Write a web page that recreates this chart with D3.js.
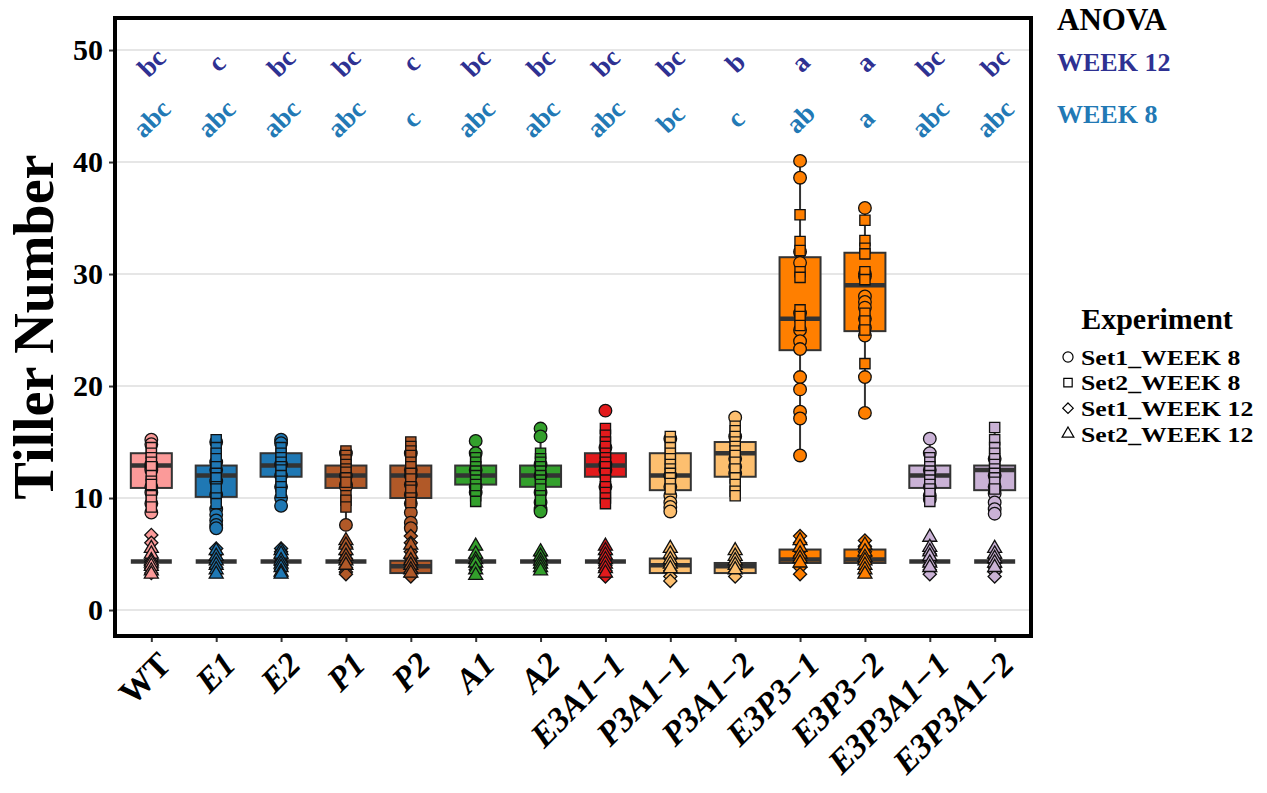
<!DOCTYPE html>
<html>
<head lang="en">
<meta charset="utf-8">
<title>Tiller Number</title>
<style>
body { margin: 0; background: #fff; }
text { font-family: "Liberation Serif", "Times New Roman", serif; font-weight: bold; }
</style>
<script src="https://cdn.jsdelivr.net/npm/d3@7"></script>
</head>
<body>
<script>
// Tiller number, week 8 (upper boxes) and week 12 (lower boxes)
var categories = ["WT", "E1", "E2", "P1", "P2", "A1", "A2", "E3A1\u22121", "P3A1\u22121", "P3A1\u22122",
                  "E3P3\u22121", "E3P3\u22122", "E3P3A1\u22121", "E3P3A1\u22122"];
var italicLabel = [false, true, true, true, true, true, true, true, true, true, true, true, true, true];
var palette = ["#FB9A99", "#1F78B4", "#1F78B4", "#B15928", "#B15928", "#33A02C", "#33A02C", "#E31A1C",
               "#FDBF6F", "#FDBF6F", "#FF7F00", "#FF7F00", "#CAB2D6", "#CAB2D6"];

// ANOVA letters
var anovaWeek12 = ["bc", "c", "bc", "bc", "c", "bc", "bc", "bc", "bc", "b", "a", "a", "bc", "bc"];
var anovaWeek8  = ["abc", "abc", "abc", "abc", "c", "abc", "abc", "abc", "bc", "c", "ab", "a", "abc", "abc"];

// box statistics, week 8
var w8Q1  = [10.9, 10.1, 11.9, 10.9, 10.0, 11.2, 11.0, 11.9, 10.7, 11.9, 23.2, 24.9, 10.9, 10.7];
var w8Med = [12.9, 12.0, 12.9, 12.0, 12.0, 12.0, 12.0, 12.9, 12.0, 14.0, 26.0, 29.0, 12.0, 12.5];
var w8Q3  = [14.0, 12.9, 14.0, 12.9, 12.9, 12.9, 12.9, 14.0, 14.0, 15.0, 31.5, 31.9, 12.9, 12.9];
var w8Lo  = [8.7, 7.3, 9.3, 7.6, 7.8, 9.7, 8.8, 9.4, 8.8, 10.0, 13.8, 17.6, 9.7, 8.6];
var w8Hi  = [15.2, 15.2, 15.2, 14.2, 15.0, 14.0, 16.2, 16.2, 15.5, 17.2, 40.1, 35.9, 15.3, 16.3];

// box statistics, week 12
var w12Q1  = [4.33, 4.33, 4.33, 4.33, 3.3, 4.33, 4.33, 4.33, 3.3, 3.3, 4.2, 4.2, 4.33, 4.33];
var w12Med = [4.33, 4.33, 4.33, 4.33, 3.9, 4.33, 4.33, 4.33, 4.0, 3.9, 4.5, 4.5, 4.33, 4.33];
var w12Q3  = [4.33, 4.33, 4.33, 4.33, 4.4, 4.33, 4.33, 4.33, 4.6, 4.2, 5.4, 5.4, 4.33, 4.33];
var w12Lo  = [4.33, 4.33, 4.33, 4.33, 3.0, 4.33, 4.33, 4.33, 2.6, 2.9, 3.1, 3.2, 4.33, 4.33];
var w12Hi  = [4.33, 4.33, 4.33, 4.33, 6.0, 4.33, 4.33, 4.33, 5.5, 5.3, 6.6, 6.2, 4.33, 4.33];

// observations: Set1 week 8 (circles)
var set1Week8 = [
  [15.2, 14.8, 13.0, 12.7, 12.5, 11.0, 10.5, 9.5, 8.7],
  [15.0, 13.2, 12.5, 11.5, 10.3, 9.0, 8.5, 8.0, 7.6, 7.3],
  [15.2, 14.9, 13.0, 12.0, 11.0, 10.0, 9.3],
  [14.0, 12.0, 11.2, 11.0, 7.6],
  [14.0, 12.5, 12.0, 11.2, 10.3, 9.5, 8.7, 7.8, 7.3],
  [15.1, 14.0, 12.5, 11.0, 10.5],
  [16.2, 15.5, 13.0, 12.0, 10.5, 9.6, 9.0, 8.8],
  [17.8, 14.5, 13.0, 12.5, 11.0],
  [15.3, 12.0, 11.0, 10.2, 9.6, 9.2, 8.8],
  [17.2, 15.5, 13.5, 12.8, 12.2],
  [40.1, 38.6, 32.0, 31.0, 26.5, 25.0, 24.0, 23.3, 20.8, 19.7, 17.7, 17.1, 13.8],
  [35.9, 30.0, 29.8, 28.0, 27.5, 27.0, 26.0, 25.2, 24.5, 20.8, 17.6],
  [15.3, 14.0, 12.5, 11.0, 10.2, 9.9],
  [13.5, 12.0, 11.0, 10.4, 9.6, 9.0, 8.6]
];
// Set2 week 8 (squares)
var set2Week8 = [
  [14.5, 14.0, 13.6, 13.2, 12.8, 12.0, 11.5, 11.2, 10.2, 9.8, 9.2],
  [15.2, 14.5, 14.0, 13.5, 12.8, 12.2, 11.8, 11.0, 10.8, 10.0, 9.5],
  [14.5, 14.0, 13.6, 13.2, 12.8, 12.5, 12.0, 11.5, 11.0, 10.5],
  [14.2, 13.8, 13.4, 13.0, 12.6, 12.3, 11.8, 11.4, 10.2, 9.8, 9.2],
  [15.0, 14.6, 14.2, 13.8, 13.2, 12.8, 12.2, 11.7, 11.0, 10.7, 10.0, 9.6],
  [13.6, 13.2, 12.8, 12.4, 12.0, 11.6, 11.2, 10.8, 10.2, 9.7],
  [14.0, 13.5, 13.2, 12.8, 12.4, 12.0, 11.6, 11.2, 10.8, 10.2, 9.8],
  [16.2, 15.6, 15.0, 14.6, 14.0, 13.6, 13.2, 12.8, 12.2, 11.6, 11.0, 10.5, 10.0, 9.5],
  [15.5, 15.0, 14.5, 14.0, 13.5, 13.0, 12.6, 12.2, 11.8, 11.3, 10.8],
  [16.4, 16.0, 15.5, 15.0, 14.6, 14.2, 13.8, 13.2, 12.6, 11.8, 11.2, 10.6, 10.2],
  [35.3, 32.9, 32.1, 30.2, 29.7, 26.8, 26.2, 25.4],
  [34.8, 33.0, 32.3, 31.8, 30.2, 29.5, 26.5, 25.8, 25.0, 22.0],
  [13.6, 13.2, 12.8, 12.4, 12.0, 11.6, 11.2, 10.8, 10.4, 9.7],
  [16.3, 15.2, 14.5, 14.0, 13.5, 13.0, 12.6, 12.2, 11.8, 11.4, 10.8]
];
// Set1 week 12 (diamonds)
var set1Week12 = [
  [6.7, 6.0, 4.5, 4.3, 4.0, 3.7, 3.3],
  [5.5, 5.0, 4.5, 4.2, 3.8],
  [5.5, 5.2, 4.6, 4.3, 4.0, 3.6],
  [5.6, 5.0, 4.6, 4.2, 3.8, 3.4, 3.2],
  [6.6, 6.0, 5.2, 4.6, 4.2, 3.8, 3.4, 3.0],
  [4.6, 4.2, 3.9, 3.6],
  [4.9, 4.4, 4.0, 3.8],
  [5.0, 4.5, 4.0, 3.5, 3.0],
  [4.6, 4.0, 3.5, 3.0, 2.6],
  [4.2, 3.8, 3.4, 3.0],
  [6.6, 6.0, 5.3, 4.8, 4.4, 3.8, 3.2],
  [6.2, 5.7, 5.2, 4.8, 4.3],
  [5.0, 4.4, 4.0, 3.6, 3.2],
  [4.6, 4.2, 3.8, 3.4, 3.0]
];
// Set2 week 12 (triangles)
var set2Week12 = [
  [5.5, 5.0, 4.4, 4.2, 3.9, 3.5, 3.2],
  [5.3, 4.8, 4.4, 4.0, 3.6, 3.2],
  [5.3, 5.0, 4.4, 4.1, 3.8, 3.4, 3.2],
  [6.2, 5.8, 5.3, 4.8, 4.4, 4.0],
  [5.8, 5.0, 4.4, 4.0, 3.6, 3.3],
  [5.7, 5.0, 4.5, 4.2, 3.6, 3.1],
  [5.2, 4.8, 4.4, 4.1, 3.8, 3.5],
  [5.7, 5.3, 4.9, 4.5, 4.1, 3.7, 3.3],
  [5.5, 5.0, 4.5, 4.1, 3.7],
  [5.3, 4.8, 4.4, 4.0, 3.6],
  [6.2, 5.6, 5.0, 4.6, 4.2],
  [5.8, 5.2, 4.7, 4.4, 4.0, 3.6, 3.2],
  [6.5, 5.6, 5.2, 4.8, 4.2, 3.8],
  [5.5, 5.0, 4.6, 4.2, 3.8]
];

var yTicks = [0, 10, 20, 30, 40, 50];
var legendLabels = ["Set1_WEEK 8", "Set2_WEEK 8", "Set1_WEEK 12", "Set2_WEEK 12"];

var width = 1267, height = 793;
var panel = {left: 115, right: 1031, top: 18, bottom: 636};
var navy = "#2E3192", steel = "#2279B5", dark = "#333333";

var svg = d3.select("body").append("svg")
    .attr("width", width)
    .attr("height", height);

var x = d3.scalePoint()
    .domain(categories)
    .range([panel.left, panel.right])
    .padding(0.56);

var y = d3.scaleLinear()
    .domain([-2.32, 52.86])
    .range([panel.bottom, panel.top]);

var boxW = 41;

// grid
svg.append("g").selectAll("line")
    .data(yTicks)
    .enter()
    .append("line")
        .attr("x1", panel.left)
        .attr("x2", panel.right)
        .attr("y1", function(d) { return y(d); })
        .attr("y2", function(d) { return y(d); })
        .style("stroke", "#E6E6E6")
        .style("stroke-width", "2px");

// y axis
var yAxis = svg.append("g")
    .attr("transform", "translate(" + panel.left + ",0)")
    .call(d3.axisLeft(y).tickValues(yTicks).tickSize(6).tickPadding(6));
yAxis.select(".domain").remove();
yAxis.selectAll("line").style("stroke", dark).style("stroke-width", "2px");
yAxis.selectAll("text")
    .style("font-family", "'Liberation Serif', serif")
    .style("font-weight", "bold")
    .style("font-size", "30px")
    .style("fill", "#000");

// x axis
var xAxis = svg.append("g")
    .attr("transform", "translate(0," + panel.bottom + ")")
    .call(d3.axisBottom(x).tickSize(6).tickFormat(""));
xAxis.select(".domain").remove();
xAxis.selectAll("line").style("stroke", dark).style("stroke-width", "2px");

svg.append("g").selectAll("text")
    .data(categories)
    .enter()
    .append("text")
        .attr("transform", function(d) { return "translate(" + (x(d) + 13) + "," + (panel.bottom + 22) + ") rotate(-45)"; })
        .attr("text-anchor", "end")
        .attr("dy", "0.35em")
        .style("font-size", "34px")
        .style("font-style", function(d, i) { return italicLabel[i] ? "italic" : "normal"; })
        .text(function(d) { return d; });

// y title
svg.append("text")
    .attr("transform", "translate(53," + ((panel.top + panel.bottom) / 2) + ") rotate(-90)")
    .attr("text-anchor", "middle")
    .style("font-size", "56px")
    .text("Tiller Number");

// box plots
function drawBoxes(q1, med, q3, lo, hi) {
    var g = svg.append("g");
    var idx = d3.range(categories.length);
    g.selectAll("line.whisker")
        .data(idx)
        .enter()
        .append("line")
            .attr("class", "whisker")
            .attr("x1", function(i) { return x(categories[i]); })
            .attr("x2", function(i) { return x(categories[i]); })
            .attr("y1", function(i) { return y(lo[i]); })
            .attr("y2", function(i) { return y(hi[i]); })
            .style("stroke", dark)
            .style("stroke-width", "2px");
    g.selectAll("rect")
        .data(idx)
        .enter()
        .append("rect")
            .attr("x", function(i) { return x(categories[i]) - boxW / 2; })
            .attr("y", function(i) { return y(q3[i]); })
            .attr("width", boxW)
            .attr("height", function(i) { return y(q1[i]) - y(q3[i]); })
            .style("fill", function(i) { return palette[i]; })
            .style("stroke", dark)
            .style("stroke-width", "2px");
    g.selectAll("line.median")
        .data(idx)
        .enter()
        .append("line")
            .attr("class", "median")
            .attr("x1", function(i) { return x(categories[i]) - boxW / 2; })
            .attr("x2", function(i) { return x(categories[i]) + boxW / 2; })
            .attr("y1", function(i) { return y(med[i]); })
            .attr("y2", function(i) { return y(med[i]); })
            .style("stroke", dark)
            .style("stroke-width", "4.5px");
}
drawBoxes(w8Q1, w8Med, w8Q3, w8Lo, w8Hi);
drawBoxes(w12Q1, w12Med, w12Q3, w12Lo, w12Hi);

// points
var diamond = d3.symbolDiamond2 || d3.symbolDiamond;
var groups = [
    {values: set1Week8,  shape: d3.symbolCircle,   size: 125},
    {values: set2Week8,  shape: d3.symbolSquare,   size: 105},
    {values: set1Week12, shape: diamond,           size: 110},
    {values: set2Week12, shape: d3.symbolTriangle, size: 85}
];
groups.forEach(function(grp) {
    var pts = [];
    grp.values.forEach(function(vals, i) {
        vals.forEach(function(v) { pts.push({cat: categories[i], i: i, v: v}); });
    });
    svg.append("g").selectAll("path")
        .data(pts)
        .enter()
        .append("path")
            .attr("d", d3.symbol().type(grp.shape).size(grp.size))
            .attr("transform", function(d) { return "translate(" + x(d.cat) + "," + y(d.v) + ")"; })
            .style("fill", function(d) { return palette[d.i]; })
            .style("stroke", "#111")
            .style("stroke-width", "1.3px");
});

// ANOVA letters
function drawLetters(letters, level, color) {
    svg.append("g").selectAll("text")
        .data(letters)
        .enter()
        .append("text")
            .attr("transform", function(d, i) { return "translate(" + x(categories[i]) + "," + y(level) + ") rotate(-45)"; })
            .attr("text-anchor", "middle")
            .attr("dy", "0.35em")
            .style("font-size", "27px")
            .style("fill", color)
            .text(function(d) { return d; });
}
drawLetters(anovaWeek12, 48.9, navy);
drawLetters(anovaWeek8, 43.9, steel);

// panel frame
svg.append("rect")
    .attr("x", panel.left)
    .attr("y", panel.top)
    .attr("width", panel.right - panel.left)
    .attr("height", panel.bottom - panel.top)
    .style("fill", "none")
    .style("stroke", "#000")
    .style("stroke-width", "4px");

// ANOVA key
svg.append("text").attr("x", 1057).attr("y", 30).style("font-size", "31px").text("ANOVA");
svg.append("text").attr("x", 1057).attr("y", 71).style("font-size", "26px").style("fill", navy).text("WEEK 12");
svg.append("text").attr("x", 1057).attr("y", 123).style("font-size", "26px").style("fill", steel).text("WEEK 8");

// shape legend
svg.append("text").attr("x", 1157).attr("y", 329).attr("text-anchor", "middle")
    .style("font-size", "30px").text("Experiment");
var legendShapes = [d3.symbolCircle, d3.symbolSquare, diamond, d3.symbolTriangle];
var legendSizes = [80, 70, 70, 60];
var leg = svg.append("g").selectAll("g")
    .data(legendLabels)
    .enter()
    .append("g")
        .attr("transform", function(d, i) { return "translate(1068," + (357 + i * 25.6) + ")"; });
leg.append("path")
    .attr("d", function(d, i) { return d3.symbol().type(legendShapes[i]).size(legendSizes[i])(); })
    .style("fill", "none")
    .style("stroke", "#000")
    .style("stroke-width", "1.2px");
leg.append("text")
    .attr("transform", "translate(13,0) scale(1.17,1)")
    .attr("dy", "0.35em")
    .style("font-size", "22px")
    .text(function(d) { return d; });
</script>
</body>
</html>
